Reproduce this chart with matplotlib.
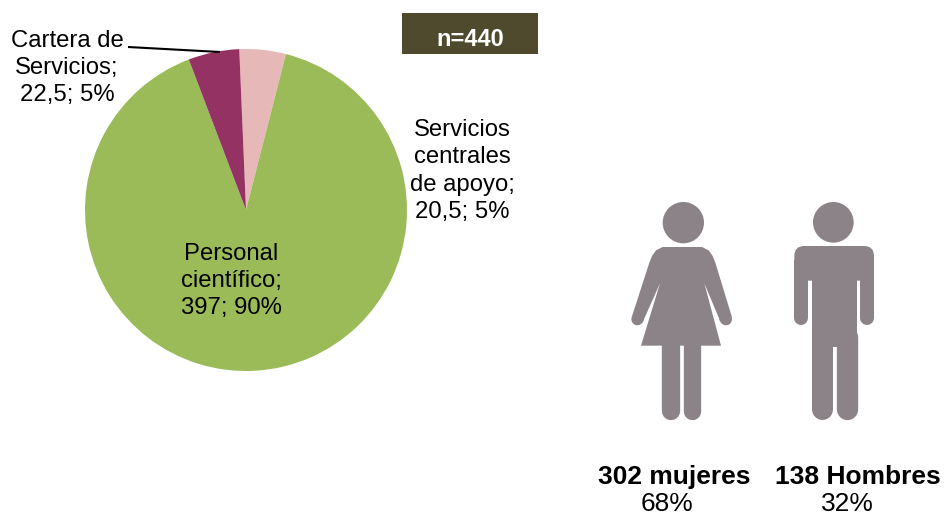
import matplotlib
matplotlib.use("Agg")
import matplotlib.pyplot as plt
from matplotlib.patches import Polygon, Circle, FancyBboxPatch, Rectangle

categories = ["Servicios\ncentrales\nde apoyo;", "Personal\ncientífico;", "Cartera de\nServicios;"]
values = [20.5, 397, 22.5]
value_texts = ["20,5; 5%", "397; 90%", "22,5; 5%"]
slice_colors = ["#E6B9B8", "#9BBB59", "#953264"]
gender_labels = ["302 mujeres", "138 Hombres"]
gender_pcts = ["68%", "32%"]
sample_label = "n=440"

W, H = 945, 517
GREY = "#8C8388"
plt.rcParams["font.family"] = ["Liberation Sans", "DejaVu Sans"]
fig = plt.figure(figsize=(W / 100, H / 100), dpi=100)
ax = fig.add_axes([0, 0, 1, 1])
ax.set_xlim(0, W)
ax.set_ylim(0, H)
ax.axis("off")


def Y(y):
    return H - y


# Pie
ax.pie(values, colors=slice_colors, startangle=92.4, counterclock=False,
       center=(246, Y(210)), radius=161, frame=False,
       wedgeprops=dict(linewidth=0))
ax.set_xlim(0, W)
ax.set_ylim(0, H)
ax.set_aspect("auto")

ax.plot([128, 220], [Y(47), Y(52)], color="black", lw=1.5, solid_capstyle="butt", zorder=5)

FS = 17.2
LS = 1.32
for (x, y), c, v in zip([(462.5, 171), (231, 281), (67, 68)], categories, value_texts):
    ax.text(x, Y(y), c + "\n" + v, ha="center", va="center", fontsize=FS,
            linespacing=LS, color="black", zorder=6)

# n box
ax.add_patch(Rectangle((402, Y(54)), 136, 41, color="#4F4A2E", lw=0, zorder=3))
ax.text(470, Y(40), sample_label, ha="center", va="center", color="white",
        fontsize=17, fontweight="bold", zorder=4)


def zx(v):
    return 620 + v / 3


def zy(v):
    return Y(190 + v / 3)


def stroke(x0, y0, x1, y1, w):
    ax.plot([zx(x0), zx(x1)], [zy(y0), zy(y1)], color=GREY, lw=w / 3 * 0.72,
            solid_capstyle="round", zorder=3)


# Woman pictogram
ax.add_patch(Circle((zx(190), zy(98)), 62 / 3, color=GREY, lw=0))
woman = [(35, 382), (88, 218), (96, 198), (108, 181), (128, 171), (246, 171), (266, 181),
         (278, 198), (286, 218), (336, 382), (300, 392), (253, 280), (303, 467), (63, 467),
         (120, 280), (70, 392)]
ax.add_patch(Polygon([(zx(a), zy(b)) for a, b in woman], closed=True, color=GREY, lw=0))
stroke(52, 388, 54, 386, 36)
stroke(318, 388, 316, 386, 36)
stroke(152, 460, 152, 662, 55)
stroke(216, 460, 216, 664, 52)

# Man pictogram
ax.add_patch(Circle((zx(640), zy(97)), 61 / 3, color=GREY, lw=0))
ax.add_patch(FancyBboxPatch((zx(523) + 10, zy(272) + 10), (762 - 523) / 3 - 20, (272 - 168) / 3 - 20,
                            boxstyle="round,pad=10", color=GREY, lw=0))
ax.add_patch(Rectangle((zx(523), zy(272) - 1), 14, 22, color=GREY, lw=0))
ax.add_patch(Rectangle((zx(720), zy(272) - 1), 14, 22, color=GREY, lw=0))
stroke(544, 260, 544, 385, 42)
stroke(741, 260, 741, 385, 42)
ax.add_patch(Rectangle((zx(575), zy(470)), (712 - 575) / 3, (470 - 200) / 3, color=GREY, lw=0))
stroke(606, 440, 606, 658, 63)
stroke(680, 440, 680, 658, 64)

# Gender labels
FB = 19
for x, xp, l, p in zip([674.5, 857.5], [667, 847], gender_labels, gender_pcts):
    ax.text(x, Y(477), l, ha="center", va="center", fontsize=FB, fontweight="bold")
    ax.text(xp, Y(504), p, ha="center", va="center", fontsize=FB)

fig.savefig("out.png", dpi=100, facecolor="white")
